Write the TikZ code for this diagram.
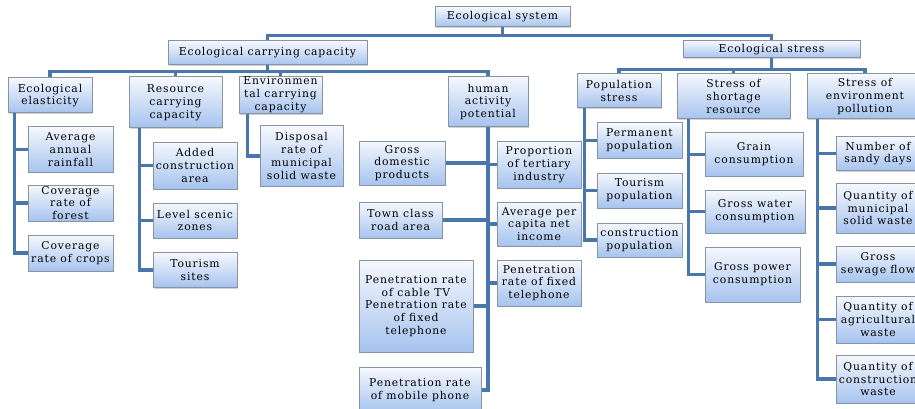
\documentclass[tikz,border=0pt]{standalone}
\usepackage{fontspec}
\setmainfont{DejaVu Serif}[LetterSpace=8]
\usetikzlibrary{shadows,calc}

\definecolor{linkblue}{HTML}{4A77AB}
\definecolor{boxtop}{HTML}{F5F8FE}
\definecolor{boxbot}{HTML}{A6C3EE}
\definecolor{boxedge}{HTML}{8894A2}

\begin{document}
\begin{tikzpicture}[x=1pt, y=-1pt,
    box/.style={draw=boxedge, line width=1pt, top color=boxtop, bottom color=boxbot,
      drop shadow={opacity=0.35, shadow xshift=1.3pt, shadow yshift=-1.3pt},
      align=center, inner sep=0.5pt, font=\fontsize{10.8}{12.8}\selectfont},
    sz/.style 2 args={minimum width=#1pt, minimum height=#2pt},
    link/.style={draw=linkblue, line width=3.6pt}]
    \useasboundingbox (0,0) rectangle (915,409);

    % top levels
    \node[box, sz={135}{20}] (root) at (502.5,17) {Ecological system};
    \node[box, sz={199}{24}] (ecc) at (267.5,53) {Ecological carrying capacity};
    \node[box, sz={177}{17}] (es) at (771.5,49.5) {Ecological stress};

    \node[box, sz={84}{35}] (ee) at (50,95.5) {Ecological\\elasticity};
    \node[box, sz={93}{51}] (rcc) at (175.5,102.5) {Resource\\carrying\\capacity};
    \node[box, sz={83}{36}] (envc) at (280.5,95) {Environmen\\tal carrying\\capacity};
    \node[box, sz={80}{50}] (hap) at (488,102) {human\\activity\\potential};
    \node[box, sz={84}{34}] (ps) at (619,91) {Population\\stress};
    \node[box, sz={113}{45}] (ssr) at (733.5,96.5) {Stress of\\shortage\\resource};
    \node[box, sz={116}{45}] (sep) at (865,96.5) {Stress of\\environment\\pollution};

    % Ecological elasticity
    \node[box, sz={85}{45}] (ee1) at (70.5,149.5) {Average\\annual\\rainfall};
    \node[box, sz={85}{36}] (ee2) at (70.5,203) {Coverage\\rate of\\forest};
    \node[box, sz={85}{36}] (ee3) at (70.5,253) {Coverage\\rate of crops};

    % Resource carrying capacity
    \node[box, sz={84}{47}] (rcc1) at (195,165.5) {Added\\construction\\area};
    \node[box, sz={84}{35}] (rcc2) at (195,220.5) {Level scenic\\zones};
    \node[box, sz={84}{35}] (rcc3) at (195,270) {Tourism\\sites};

    % Environmental carrying capacity
    \node[box, sz={83}{60}] (envc1) at (301.5,156) {Disposal\\rate of\\municipal\\solid waste};

    % human activity potential
    \node[box, sz={86}{44}] (gdp) at (402,163) {Gross\\domestic\\products};
    \node[box, sz={83}{36}] (road) at (400.5,220) {Town class\\road area};
    \node[box, sz={114}{92}] (cable) at (416,306) {Penetration rate\\of cable TV\\Penetration rate\\of fixed\\telephone};
    \node[box, sz={122}{46}] (mobile) at (420,390) {Penetration rate\\of mobile phone};
    \node[box, sz={84}{47}] (tert) at (539,164.5) {Proportion\\of tertiary\\industry};
    \node[box, sz={84}{44}] (income) at (539,224) {Average per\\capita net\\income};
    \node[box, sz={84}{46}] (phone) at (539,283) {Penetration\\rate of fixed\\telephone};

    % Population stress
    \node[box, sz={85}{35}] (ps1) at (639.5,140.5) {Permanent\\population};
    \node[box, sz={85}{35}] (ps2) at (639.5,190.5) {Tourism\\population};
    \node[box, sz={85}{34}] (ps3) at (639.5,240) {construction\\population};

    % Stress of shortage resource
    \node[box, sz={98}{43}] (ssr1) at (754,154.5) {Grain\\consumption};
    \node[box, sz={100}{43}] (ssr2) at (755,211.5) {Gross water\\consumption};
    \node[box, sz={95}{55}] (ssr3) at (752.5,274.5) {Gross power\\consumption};

    % Stress of environment pollution
    \node[box, sz={84}{34}] (sep1) at (878,153.5) {Number of\\sandy days};
    \node[box, sz={84}{50}] (sep2) at (878,208) {Quantity of\\municipal\\solid waste};
    \node[box, sz={84}{36}] (sep3) at (878,264) {Gross\\sewage flow};
    \node[box, sz={84}{47}] (sep4) at (878,319.5) {Quantity of\\agricultural\\waste};
    \node[box, sz={84}{48}] (sep5) at (878,379) {Quantity of\\construction\\waste};

    % connectors
    \foreach \c in {ecc,es}
        \draw[link] (root.south) -- ++(0,8) -| (\c.north);
    \foreach \c in {ee,rcc,envc,hap}
        \draw[link] (ecc.south) -- ++(0,6) -| (\c.north);
    \foreach \c in {ps,ssr,sep}
        \draw[link] (es.south) -- ++(0,11) -| (\c.north);

    \foreach \p/\dx/\kids in {ee/7/{ee1,ee2,ee3}, rcc/11/{rcc1,rcc2,rcc3}, envc/9/{envc1},
        ps/8/{ps1,ps2,ps3}, ssr/12/{ssr1,ssr2,ssr3}, sep/11/{sep1,sep2,sep3,sep4,sep5}}
        \foreach \c in \kids
            \draw[link] ($(\p.south west)+(\dx,0)$) |- (\c.west);

    \foreach \c in {tert,income,phone}
        \draw[link] (hap.south) |- (\c.west);
    \foreach \c in {gdp,road,cable,mobile}
        \draw[link] (hap.south) |- (\c.east);
\end{tikzpicture}
\end{document}
